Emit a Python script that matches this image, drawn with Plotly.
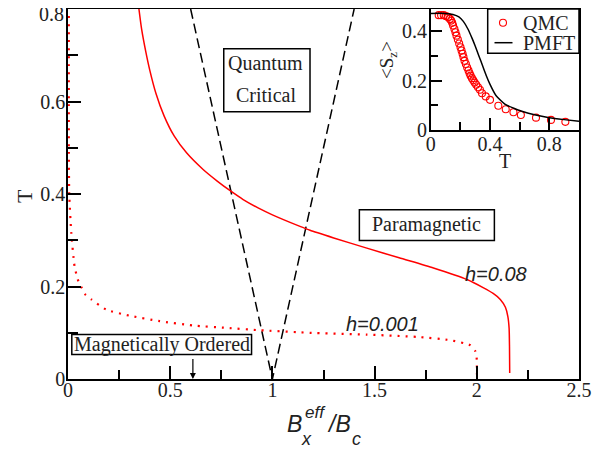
import plotly.graph_objects as go

# ---------------- data ----------------
# critical-region boundaries (dashed)
qc_B = [0.6, 1.0, 1.4]
qc_T = [0.8, 0.0, 0.8]

# h = 0.08 phase boundary (solid red)
h008_B = [0.347, 0.36, 0.38, 0.40, 0.43, 0.47, 0.52, 0.58, 0.661, 0.73, 0.797, 0.857,
          0.93, 1.0, 1.135, 1.184, 1.30, 1.462, 1.62, 1.788, 1.952, 2.033, 2.08, 2.115, 2.14,
          2.152, 2.158, 2.160, 2.161]
h008_T = [0.80, 0.757, 0.709, 0.668, 0.618, 0.569, 0.525, 0.489, 0.453, 0.428, 0.406, 0.388,
          0.370, 0.355, 0.330, 0.3215, 0.305, 0.283, 0.262, 0.240, 0.215, 0.197, 0.185, 0.172,
          0.155, 0.135, 0.110, 0.070, 0.013]

# h = 0.001 phase boundary (dotted red)
h0001_B = [0.004, 0.004, 0.006, 0.016, 0.032, 0.048, 0.065, 0.086, 0.114, 0.187, 0.30,
           0.449, 0.612, 0.775, 0.939, 1.135, 1.184, 1.462, 1.707, 1.87, 1.968, 1.993,
           2.0, 2.0]
h0001_T = [0.785, 0.50, 0.40, 0.316, 0.244, 0.215, 0.199, 0.182, 0.172, 0.150, 0.137,
           0.125, 0.1156, 0.1106, 0.1054, 0.101, 0.0998, 0.096, 0.091, 0.084, 0.073, 0.060,
           0.042, 0.010]

# inset: <S_z> vs T
qmc_T = [0.054, 0.070, 0.088, 0.104, 0.118, 0.129, 0.138, 0.145, 0.151, 0.160, 0.167, 0.174,
         0.183, 0.192, 0.201, 0.208, 0.215, 0.221, 0.228, 0.237, 0.246, 0.255, 0.262, 0.269,
         0.278, 0.287, 0.296, 0.307, 0.319, 0.332, 0.346, 0.371, 0.400, 0.456, 0.506, 0.558,
         0.608, 0.710, 0.811, 0.908]
qmc_S = [0.465, 0.465, 0.465, 0.461, 0.457, 0.450, 0.443, 0.434, 0.423, 0.409, 0.396, 0.382,
         0.366, 0.350, 0.335, 0.322, 0.309, 0.295, 0.280, 0.267, 0.253, 0.241, 0.230, 0.220,
         0.210, 0.201, 0.192, 0.183, 0.173, 0.163, 0.149, 0.136, 0.122, 0.098, 0.084, 0.072,
         0.061, 0.050, 0.041, 0.033]

pmft_T = [0.0, 0.10, 0.15, 0.19, 0.22, 0.25, 0.28, 0.30, 0.325, 0.35, 0.375, 0.40, 0.44,
          0.50, 0.56, 0.62, 0.70, 0.80, 0.90, 1.0]
pmft_S = [0.472, 0.472, 0.468, 0.458, 0.44, 0.41, 0.37, 0.34, 0.30, 0.26, 0.22, 0.185, 0.14,
          0.105, 0.088, 0.075, 0.062, 0.05, 0.042, 0.035]

# tick labels
main_xticks = [0, 0.5, 1, 1.5, 2, 2.5]
main_xlabels = ["0", "0.5", "1", "1.5", "2", "2.5"]
main_yticks = [0, 0.2, 0.4, 0.6, 0.8]
main_ylabels = ["0", "0.2", "0.4", "0.6", "0.8"]
ins_xticks = [0, 0.4, 0.8]
ins_xlabels = ["0", "0.4", "0.8"]
ins_yticks = [0, 0.2, 0.4]
ins_ylabels = ["0", "0.2", "0.4"]

# ---------------- figure ----------------
BODY = 8                      # default page margin of the html body
W, H = 603, 442
ML, MR, MT, MB = 60, 32, 1, 71
PW, PH = W - ML - MR, H - MT - MB

def px(xp):                   # page pixel -> paper
    return (xp - BODY - ML) / PW

def py(yp):
    return (H - MB - (yp - BODY)) / PH

SERIF = "Liberation Serif"
SANS = "Liberation Sans"
TXT = "#222222"

fig = go.Figure()

fig.add_trace(go.Scatter(x=qc_B, y=qc_T, mode="lines",
                         line=dict(color="black", width=1.5, dash="10px,5px"),
                         showlegend=False, xaxis="x", yaxis="y"))
fig.add_trace(go.Scatter(x=h008_B, y=h008_T, mode="lines",
                         line=dict(color="red", width=1.5, shape="spline", smoothing=0.6),
                         showlegend=False, xaxis="x", yaxis="y"))
fig.add_trace(go.Scatter(x=h0001_B, y=h0001_T, mode="lines",
                         line=dict(color="red", width=2.2, dash="2px,6px", shape="spline", smoothing=0.5),
                         showlegend=False, xaxis="x", yaxis="y"))

fig.add_trace(go.Scatter(x=qmc_T, y=qmc_S, mode="markers", name="QMC",
                         marker=dict(symbol="circle-open", size=7, color="red",
                                     line=dict(width=1.1, color="red")),
                         showlegend=False, xaxis="x2", yaxis="y2"))
fig.add_trace(go.Scatter(x=pmft_T, y=pmft_S, mode="lines", name="PMFT",
                         line=dict(color="black", width=1.5, shape="spline", smoothing=0.5),
                         showlegend=False, xaxis="x2", yaxis="y2"))

axis_common = dict(showline=True, linecolor="black", linewidth=1.5, mirror=True,
                   ticks="inside", tickcolor="black", tickwidth=1.5,
                   showgrid=False, zeroline=False,
                   tickfont=dict(family=SERIF, size=20, color=TXT))

# the top y label would be clipped by the page edge; it is drawn as an annotation below
main_yticktext = main_ylabels[:-1] + [""]

fig.update_layout(
    width=W, height=H,
    margin=dict(l=ML, r=MR, t=MT, b=MB, autoexpand=False),
    paper_bgcolor="white", plot_bgcolor="white",
    xaxis=dict(domain=[0, 1], range=[0, 2.5], tickvals=main_xticks, ticktext=main_xlabels,
               ticklen=13, ticklabelstandoff=-8,
               minor=dict(dtick=0.25, tick0=0, ticks="inside", ticklen=9,
                          tickcolor="black", tickwidth=1.5, showgrid=False),
               anchor="y", **axis_common),
    yaxis=dict(domain=[0, 1], range=[0, 0.8], tickvals=main_yticks, ticktext=main_yticktext,
               ticklen=13, ticklabelstandoff=-3,
               minor=dict(dtick=0.1, tick0=0, ticks="inside", ticklen=10,
                          tickcolor="black", tickwidth=1.5, showgrid=False),
               anchor="x", **axis_common),
    xaxis2=dict(domain=[px(430.7), 1.0], range=[0, 1.0], tickvals=ins_xticks, ticktext=ins_xlabels,
                ticklen=12, ticklabelstandoff=-5,
                minor=dict(dtick=0.2, tick0=0, ticks="inside", ticklen=8,
                           tickcolor="black", tickwidth=1.5, showgrid=False),
                anchor="y2", **axis_common),
    yaxis2=dict(domain=[py(130), 1.0], range=[0, 0.49], tickvals=ins_yticks, ticktext=ins_ylabels,
                ticklen=12, ticklabelstandoff=-2,
                minor=dict(dtick=0.1, tick0=0, ticks="inside", ticklen=8,
                           tickcolor="black", tickwidth=1.5, showgrid=False),
                anchor="x2", **axis_common),
    showlegend=False,
)

# region boxes (data coordinates)
boxes = [
    (0.762, 1.184, 0.578, 0.714),
    (1.4255, 2.086, 0.2992, 0.3662),
    (0.0186, 0.898, 0.0529, 0.0961),
]
for x0, x1, y0, y1 in boxes:
    fig.add_shape(type="rect", xref="x", yref="y", x0=x0, x1=x1, y0=y0, y1=y1,
                  line=dict(color="black", width=1.5), fillcolor="white", layer="above")

# inset legend box and keys
fig.add_shape(type="rect", xref="paper", yref="paper", x0=px(487.7), x1=1.0,
              y0=py(53.3), y1=1.0, line=dict(color="black", width=1.5), fillcolor="white",
              layer="above")
fig.add_shape(type="circle", xref="paper", yref="paper", x0=px(499.5), x1=px(506.5),
              y0=py(26.2), y1=py(19.2), line=dict(color="red", width=1.1), layer="above")
fig.add_shape(type="line", xref="paper", yref="paper", x0=px(494.5), x1=px(512.5),
              y0=py(42.7), y1=py(42.7), line=dict(color="black", width=1.5), layer="above")

ann = []
def text_data(t, x, y, size=20, family=SERIF, angle=0):
    ann.append(dict(text=t, x=x, y=y, xref="x", yref="y", showarrow=False,
                    xanchor="center", yanchor="middle", textangle=angle,
                    font=dict(family=family, size=size, color=TXT)))

def text_px(t, x, y, size=20, family=SERIF, angle=0, xanchor="center"):
    ann.append(dict(text=t, x=px(x), y=py(y), xref="paper", yref="paper", showarrow=False,
                    xanchor=xanchor, yanchor="middle", textangle=angle,
                    font=dict(family=family, size=size, color=TXT)))

text_data("Quantum", 0.968, 0.684)
text_data("Critical", 0.971, 0.6135)
text_data("Paramagnetic", 1.756, 0.333)
text_data("Magnetically Ordered", 0.458, 0.0745)
text_data("<i>h=0.08</i>", 2.0946, 0.228, size=20, family=SANS)
text_data("<i>h=0.001</i>", 1.539, 0.12, size=20, family=SANS)

# arrow to the ordered point
ann.append(dict(text=" ", x=0.611, y=0.0, xref="x", yref="y", showarrow=True,
                ax=0, ay=-23, arrowhead=2, arrowsize=1, arrowwidth=1.2, arrowcolor="black",
                font=dict(size=2)))

# top y tick label
text_px(main_ylabels[-1], 65.5, 14.5, size=20, xanchor="right")

# legend texts
text_px("QMC", 520.5, 22.7, size=20, xanchor="left")
text_px("PMFT", 520.5, 42.7, size=20, xanchor="left")

# axis titles
text_px("T", 25, 196, size=22, angle=-90)
text_px("<i>B</i>", 294, 424, size=23, family=SANS)
text_px("<i>eff</i>", 315.5, 412, size=17, family=SANS)
text_px("<i>x</i>", 306.5, 439, size=18, family=SANS)
text_px("<i>/B</i>", 339, 424, size=23, family=SANS)
text_px("<i>c</i>", 356, 438.5, size=18, family=SANS)
text_px("T", 505, 161, size=20)
text_px("&lt;S<sub>z</sub>&gt;", 388, 60, size=19, angle=-90)

fig.update_layout(annotations=ann)

fig.write_html("out.html")
